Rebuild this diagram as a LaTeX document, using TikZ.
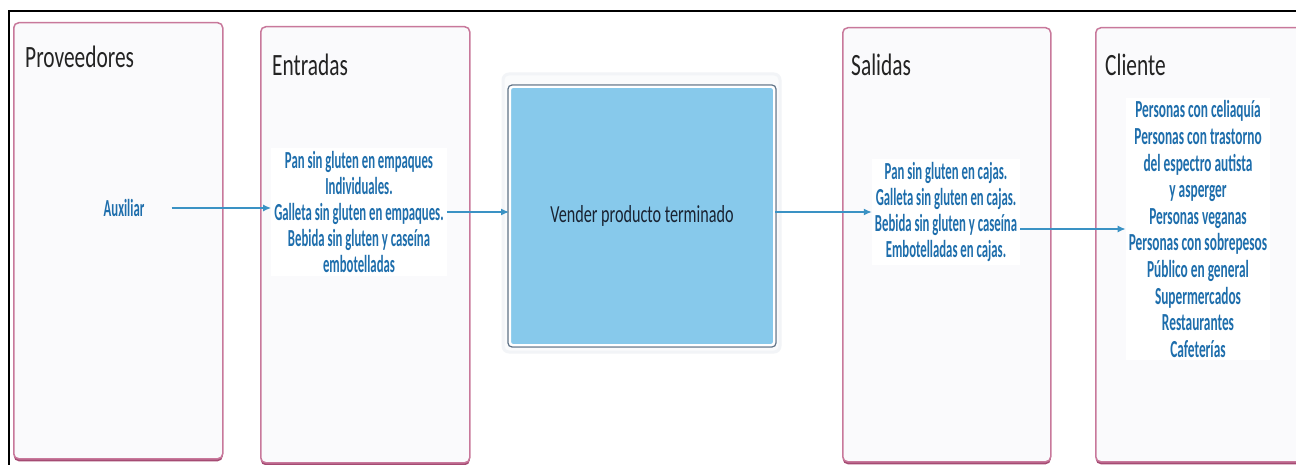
\documentclass[tikz,border=0pt]{standalone}
\usepackage{fontspec}
\setmainfont{Carlito}
\newfontfamily\titlefont[FakeStretch=0.69]{Carlito}
\newfontfamily\bodyfont[FakeStretch=0.52]{Carlito}
\newfontfamily\cliefont[FakeStretch=0.545]{Carlito}
\newfontfamily\boxfont[FakeStretch=0.66]{Carlito}
\usetikzlibrary{shadows,arrows.meta}
\definecolor{framecol}{RGB}{200,120,155}
\definecolor{shadowcol}{RGB}{165,75,115}
\definecolor{boxfill}{RGB}{250,250,252}
\definecolor{txtblue}{RGB}{30,110,172}
\definecolor{arrcol}{RGB}{58,146,196}
\definecolor{skyb}{RGB}{135,201,235}
\definecolor{titlecol}{RGB}{35,35,35}
\definecolor{glowcol}{RGB}{242,244,247}
\definecolor{glowfill}{RGB}{250,251,252}
\definecolor{vborder}{RGB}{95,115,135}
\definecolor{vtext}{RGB}{25,35,50}
\tikzset{
  frame/.style={draw=framecol, line width=1.5pt, rounded corners=5pt, fill=boxfill,
    drop shadow={shadow xshift=0pt, shadow yshift=-2.5pt, fill=shadowcol, opacity=1},
    anchor=north west, inner sep=0pt},
  ttl/.style={font=\titlefont\fontsize{31}{31}\selectfont, text=titlecol, anchor=base west, inner sep=0pt},
  body/.style={font=\bodyfont\bfseries\fontsize{24.5}{26}\selectfont, text=txtblue, align=center, fill=white, inner sep=3pt},
  arr/.style={draw=arrcol, line width=1.3pt, -{Latex[length=8pt,width=7pt]}},
  vbox/.style={fill=skyb, draw=white, line width=2pt, rounded corners=3pt, inner sep=0pt,
    font=\boxfont\fontsize{24.5}{26}\selectfont, text=vtext},
}
\begin{document}
\begin{tikzpicture}[x=1pt,y=-1pt]
\useasboundingbox (0,0) rectangle (1296,465);
\fill[white] (0,0) rectangle (1296,465);
% outer black lines
\draw[line width=2pt, black] (9,466) -- (9,11) -- (1297,11);
% frames
\node[frame, minimum width=209pt, minimum height=436pt] (fprov) at (13,22) {};
\node[frame, minimum width=209pt, minimum height=436pt] (fent) at (260,26) {};
\node[frame, minimum width=208pt, minimum height=434pt] (fsal) at (842,27) {};
\node[frame, minimum width=220pt, minimum height=434pt] (fcli) at (1095,27) {};
% titles
\node[ttl] (tprov) at (25,68) {Proveedores};
\node[ttl] (tent) at (272,76) {Entradas};
\node[ttl] (tsal) at (851,76) {Salidas};
\node[ttl] (tcli) at (1105,76) {Cliente};
% central box
\draw[rounded corners=6pt, draw=glowcol, line width=3pt, fill=glowfill] (503,74) rectangle (780,352);
\draw[rounded corners=4pt, draw=vborder, line width=1.2pt] (508,85) rectangle (776,347);
\node[vbox, minimum width=264pt, minimum height=258pt] (vender) at (642,216) {Vender producto terminado};
% texts
\node[body, fill=none] (aux) at (124,208) {Auxiliar};
\node[body] (ent) at (359,212) {Pan sin gluten en empaques\\Individuales.\\Galleta sin gluten en empaques.\\Bebida sin gluten y caseína\\embotelladas};
\node[body] (sal) at (946,212) {Pan sin gluten en cajas.\\Galleta sin gluten en cajas.\\Bebida sin gluten y caseína\\Embotelladas en cajas.};
\node[body, font=\cliefont\bfseries\fontsize{24.5}{26.6}\selectfont] (cli) at (1198,229) {Personas con celiaquía\\Personas con trastorno\\del espectro autista\\y asperger\\Personas veganas\\Personas con sobrepesos\\Público en general\\Supermercados\\Restaurantes\\Cafeterías};
% arrows
\draw[arr, shorten <=24pt] (aux.east) -- (aux.east -| ent.west);
\draw[arr] (ent.east) -- (ent.east -| vender.west);
\draw[arr] (sal.west -| vender.east) -- (sal.west);
\draw[arr] (cli.west -| sal.east) -- (cli.west);
\end{tikzpicture}
\end{document}
